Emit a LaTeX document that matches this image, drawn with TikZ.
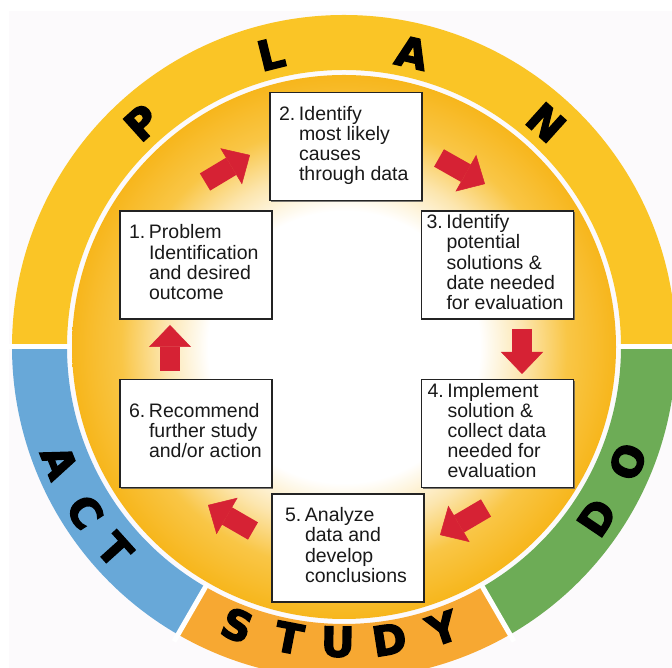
\documentclass[tikz,border=0pt]{standalone}
\usepackage{fontspec}
\setmainfont{Liberation Sans}
\newfontfamily\ringfont{DejaVu Sans}[BoldFeatures={FakeBold=3.5}]
\usetikzlibrary{arrows.meta,shadows}

\definecolor{planyellow}{RGB}{250,197,38}
\definecolor{dogreen}{RGB}{109,172,86}
\definecolor{actblue}{RGB}{104,168,216}
\definecolor{studyorange}{RGB}{247,168,50}
\definecolor{discgold}{RGB}{247,182,28}
\definecolor{discmid}{RGB}{249,198,70}
\definecolor{discpale}{RGB}{252,230,175}
\definecolor{arrowred}{RGB}{214,34,52}
\definecolor{pagebg}{RGB}{252,250,252}
\definecolor{boxline}{RGB}{35,35,35}
\definecolor{inktext}{RGB}{25,25,25}

% warm glow of the central disc: white middle, golden rim
\pgfdeclareradialshading{discglow}{\pgfpointorigin}{%
  color(0bp)=(white); color(12.5bp)=(white); color(16.5bp)=(discpale);
  color(20.5bp)=(discmid); color(25bp)=(discgold); color(50bp)=(discgold)}

% one step text: hanging number, then the lines of the step
\newcommand\steplines[3]{%
  \hbox to 152pt{\hspace*{#1}\makebox[20pt][l]{#2}%
  \begin{tabular}[t]{@{}l@{}}#3\end{tabular}\hfil}}

\tikzset{
  stepbox/.style={draw=boxline, line width=1.4pt, fill=white,
    minimum width=152pt, minimum height=108pt, inner sep=0pt,
    text=inktext, font=\fontsize{19.5}{20}\selectfont,
    drop shadow={shadow xshift=1.3pt, shadow yshift=-1.3pt,
      fill=black!65, opacity=.8}},
  flowarrow/.style={draw=arrowred, line width=20pt,
    -{Triangle[width=42pt, length=22pt, line width=0.5pt]}},
  ringletter/.style={inner sep=0pt, text=black,
    font=\ringfont\bfseries\fontsize{41}{41}\selectfont},
  gap/.style={draw=white, line width=5pt}
}

\begin{document}
\begin{tikzpicture}[x=1pt, y=1pt]
\useasboundingbox (0,0) rectangle (672,668);
\clip (0,0) rectangle (672,668);
\fill[white] (0,0) rectangle (672,668);
\fill[pagebg] (9,0) rectangle (672,657);

\coordinate (c) at (344,321);

% outer ring: PLAN, DO, STUDY, ACT
\fill[planyellow] ([shift={(0:277pt)}]c) arc[start angle=0, end angle=180, radius=277pt]
  -- ([shift={(180:332pt)}]c) arc[start angle=180, end angle=0, radius=332pt] -- cycle;
\fill[dogreen] ([shift={(-60:277pt)}]c) arc[start angle=-60, end angle=0, radius=277pt]
  -- ([shift={(0:332pt)}]c) arc[start angle=0, end angle=-60, radius=332pt] -- cycle;
\fill[studyorange] ([shift={(-120:277pt)}]c) arc[start angle=-120, end angle=-60, radius=277pt]
  -- ([shift={(-60:332pt)}]c) arc[start angle=-60, end angle=-120, radius=332pt] -- cycle;
\fill[actblue] ([shift={(180:277pt)}]c) arc[start angle=180, end angle=240, radius=277pt]
  -- ([shift={(240:332pt)}]c) arc[start angle=240, end angle=180, radius=332pt] -- cycle;
\foreach \a in {0,180,-60,-120}
  \draw[gap] ([shift={(\a:274pt)}]c) -- ([shift={(\a:340pt)}]c);

% central disc
\shade[shading=discglow] (c) circle[radius=272pt];

% the six steps
\node[stepbox] (s1) at (196,403)
  {\steplines{9pt}{1.}{Problem\\Identification\\and desired\\outcome}};
\node[stepbox] (s2) at (346,521.5)
  {\steplines{9pt}{2.}{Identify\\most likely\\causes\\through data}};
\node[stepbox] (s3) at (497.5,403)
  {\steplines{5pt}{3.}{Identify\\potential\\solutions \&\\date needed\\for evaluation}};
\node[stepbox] (s4) at (497.5,234.5)
  {\steplines{6pt}{4.}{Implement\\solution \&\\collect data\\needed for\\evaluation}};
\node[stepbox] (s5) at (348,120)
  {\steplines{13pt}{5.}{Analyze\\data and\\develop\\conclusions}};
\node[stepbox] (s6) at (196,234.5)
  {\steplines{9pt}{6.}{Recommend\\further study\\and/or action}};

% arrows between the steps
\coordinate (a12t) at (205,486); \coordinate (a12h) at (250,513);
\coordinate (a23t) at (439,510); \coordinate (a23h) at (485,484);
\coordinate (a34t) at (522,339); \coordinate (a34h) at (522,294);
\coordinate (a45t) at (486,160); \coordinate (a45h) at (440,133);
\coordinate (a56t) at (253,137); \coordinate (a56h) at (208,163);
\coordinate (a61t) at (170,297); \coordinate (a61h) at (170,343);
\draw[flowarrow] (a12t) -- (a12h);
\draw[flowarrow] (a23t) -- (a23h);
\draw[flowarrow] (a34t) -- (a34h);
\draw[flowarrow] (a45t) -- (a45h);
\draw[flowarrow] (a56t) -- (a56h);
\draw[flowarrow] (a61t) -- (a61h);

% ring lettering
\node[ringletter, rotate=42]  (pP) at ([shift={(132:302pt)}]c) {P};
\node[ringletter, rotate=14]  (pL) at ([shift={(104:302pt)}]c) {L};
\node[ringletter, rotate=-13] (pA) at ([shift={(77:302pt)}]c) {A};
\node[ringletter, rotate=-42] (pN) at ([shift={(48:302pt)}]c) {N};

\node[ringletter, rotate=56]  (dD) at ([shift={(-34:305pt)}]c) {D};
\node[ringletter, rotate=68]  (dO) at ([shift={(-22:306pt)}]c) {O};

\node[ringletter, rotate=-21] (sS) at ([shift={(-111:298pt)}]c) {S};
\node[ringletter, rotate=-11] (sT) at ([shift={(-100.7:296pt)}]c) {T};
\node[ringletter, rotate=-1]  (sU) at ([shift={(-91.2:295pt)}]c) {U};
\node[ringletter, rotate=9]   (sD) at ([shift={(-81.2:296pt)}]c) {D};
\node[ringletter, rotate=19]  (sY) at ([shift={(-70.7:298pt)}]c) {Y};

\node[ringletter, rotate=-68] (aA) at ([shift={(-158:307pt)}]c) {A};
\node[ringletter, rotate=-57] (aC) at ([shift={(-147.5:307pt)}]c) {C};
\node[ringletter, rotate=-48] (aT) at ([shift={(-138.5:306pt)}]c) {T};
\end{tikzpicture}
\end{document}
